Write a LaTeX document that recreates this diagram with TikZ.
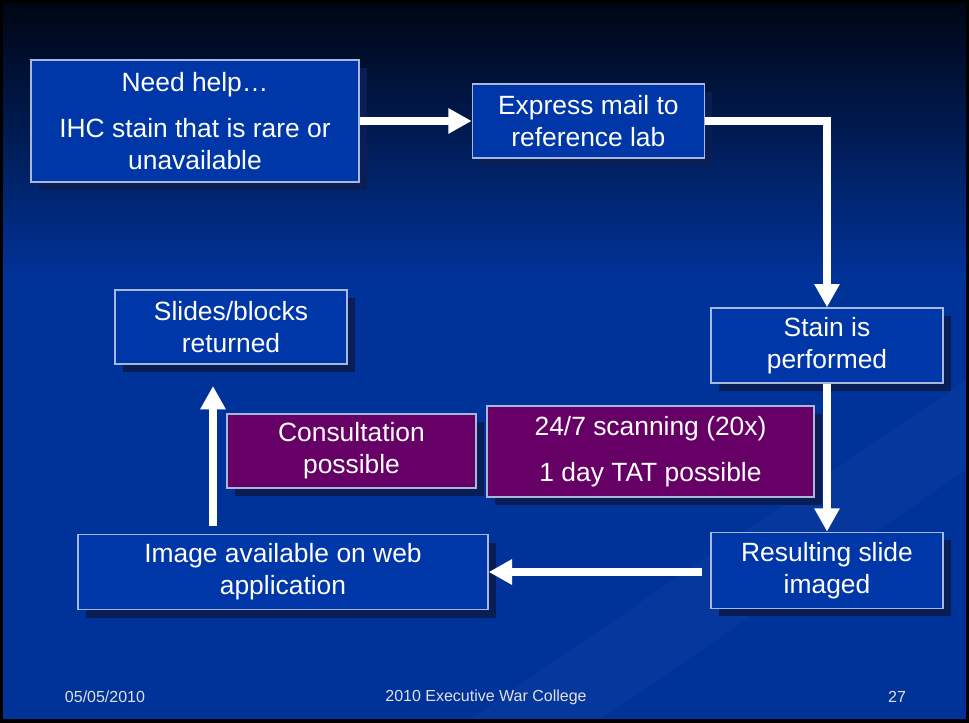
\documentclass[tikz,border=0pt]{standalone}
\usepackage{fontspec}
\setmainfont{Liberation Sans}
\usepackage{tikz}
\usetikzlibrary{shapes,arrows}
\usetikzlibrary{arrows.meta, positioning, shadows}

\definecolor{slideblue}{HTML}{00339A}
\definecolor{slidetop}{HTML}{000614}
\definecolor{boxblue}{HTML}{0037A8}
\definecolor{boxpurple}{HTML}{660066}
\definecolor{boxrim}{HTML}{A8B8DC}
\definecolor{boxshade}{HTML}{0B1D55}

\begin{document}
\begin{tikzpicture}[x=0.75pt, y=-0.75pt,
          box/.style={draw=boxrim, line width=1pt, fill=boxblue, text=white, align=center, inner sep=0pt,
            font=\fontsize{19.8}{24}\selectfont, execute at begin node={\rule{0pt}{22pt}},
            drop shadow={shadow xshift=6pt, shadow yshift=-6pt, fill=boxshade, opacity=1}},
          note/.style={box, fill=boxpurple},
          flow/.style={draw=white, line width=6.5pt, -{Triangle[width=18pt, length=17.5pt]}},
          foot/.style={text=white!88!black, font=\fontsize{12}{14}\selectfont}]
          \useasboundingbox (0,0) rectangle (969,723);
          \fill[black] (0,0) rectangle (969,723);
          \fill[slideblue] (3,4) rectangle (966,719);
          \shade[top color=slidetop, bottom color=slideblue] (3,4) rectangle (966,280);
          \fill[white, opacity=0.025] (470,719) -- (600,719) -- (966,470) -- (966,380) -- cycle;

          \node[box, minimum width=246pt, minimum height=91.5pt] (1) at (195,121) {Need help…\\[11pt] IHC stain that is rare or\\ unavailable};
          \node[box, minimum width=174pt, minimum height=55.5pt] (2) [right=84pt of 1] {Express mail to\\ reference lab};
          \node[box, minimum width=174pt, minimum height=56.25pt] (3) at (827,345.5) {Stain is\\ performed};
          \node[box, minimum width=174pt, minimum height=57pt] (4) [below=111pt of 3] {Resulting slide\\ imaged};
          \node[box, minimum width=307.5pt, minimum height=56.25pt] (5) at (283,572) {Image available on web\\ application};
          \node[box, minimum width=174pt, minimum height=55.5pt] (6) at (231,327) {Slides/blocks\\ returned};
          \node[note, minimum width=186.75pt, minimum height=55.5pt] (7) at (351.5,451) {Consultation\\ possible};
          \node[note, minimum width=245.25pt, minimum height=68.25pt] (8) at (650.5,451.5) {24/7 scanning (20x)\\[10.5pt] 1 day TAT possible};

          \coordinate (up) at (213,386);

          \draw[flow] (1) -- (2);
          \draw[flow] (2.east) -| (3.north);
          \draw[flow] (3) -- (4);
          \draw[flow, shorten <=6pt] (5.east -| 4.west) -- (5.east);
          \draw[flow, shorten <=6pt] (up |- 5.north) -- (up);

          \node[foot] (d) at (105,697) {05/05/2010};
          \node[foot] (t) at (486,697) {2010 Executive War College};
          \node[foot] (p) at (897,697) {27};
    \end{tikzpicture}
\end{document}
